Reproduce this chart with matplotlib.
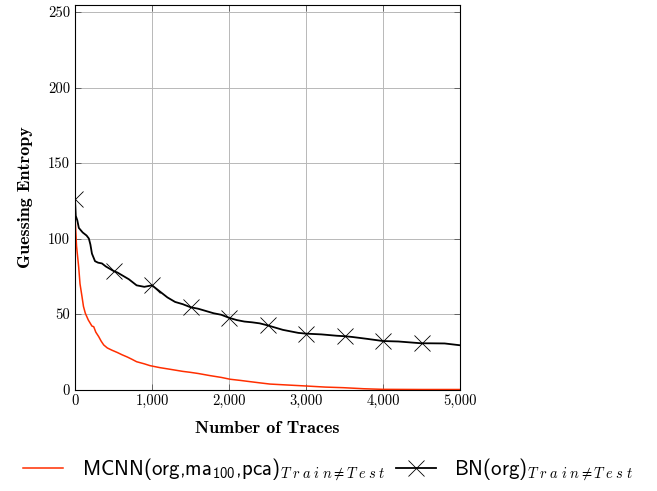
import matplotlib
matplotlib.use('Agg')
import matplotlib.pyplot as plt
from matplotlib.ticker import FuncFormatter

# values
bn_traces = [0, 10, 30, 50, 100, 150, 180, 200, 220, 260, 300, 350, 400, 450,
             500, 550, 600, 700, 800, 900, 1000, 1100, 1200, 1300, 1400, 1500,
             1600, 1700, 1800, 1900, 2000, 2100, 2200, 2300, 2400, 2500, 2600,
             2700, 2800, 2900, 3000, 3200, 3400, 3500, 3600, 3800, 4000, 4200,
             4400, 4500, 4600, 4800, 5000]
bn_ge = [126, 115, 112, 107, 104, 102, 100, 96, 90, 85, 84, 83.5, 81.5, 80,
         78.5, 77.5, 76, 73, 69, 68, 69, 65, 61, 58, 56.5, 54.5,
         53.5, 52, 50.5, 49.5, 47.5, 46, 45, 44.5, 43.8, 42.5, 41,
         39.5, 38.5, 37.5, 37, 36.5, 35.6, 35.3, 34.8, 33.5, 32.1, 31.8,
         31, 30.6, 30.6, 30.5, 29.3]

mcnn_traces = [0, 5, 20, 48, 65, 91, 110, 134, 173, 199, 220, 243, 270, 308,
               340, 373, 420, 481, 550, 611, 680, 740, 800, 900, 974, 1100,
               1234, 1400, 1494, 1600, 1753, 1900, 2013, 2150, 2273, 2400,
               2532, 2750, 3008, 3250, 3485, 3750, 4000, 4500, 5000]
mcnn_ge = [112, 110, 95, 81, 70, 61.5, 55, 50.5, 46, 43.8, 42, 41.6, 38, 35,
           32, 29.5, 27.5, 26, 24.5, 23, 21.5, 20, 18.4, 17, 15.8, 14.5,
           13.4, 12, 11.4, 10.6, 9.2, 8, 6.8, 6, 5.2, 4.4,
           3.6, 3, 2.3, 1.6, 1.2, 0.5, 0.1, 0, 0]

x_ticks = [0, 1000, 2000, 3000, 4000, 5000]
y_ticks = [0, 50, 100, 150, 200, 250]

sub = r'_{T\;r\;a\;i\;n\neq T\;e\;s\;t}'
label_mcnn = r'MCNN(org,ma$_{\mathsf{100}}$,pca)$' + sub + '$'
label_bn = r'BN(org)$' + sub + '$'

plt.rcParams['mathtext.fontset'] = 'custom'
plt.rcParams['mathtext.rm'] = 'cmss10'
plt.rcParams['mathtext.sf'] = 'cmss10'
plt.rcParams['mathtext.it'] = 'cmmi10'
plt.rcParams['mathtext.fallback'] = 'cm'

fig = plt.figure(figsize=(6.57, 4.91), dpi=100)
ax = fig.add_axes([75 / 657, 1 - 389.5 / 491, 385 / 657, 385 / 491])

ax.plot(mcnn_traces, mcnn_ge, color='#ff2e00', lw=1.1, label=label_mcnn)
marks = [i for i, t in enumerate(bn_traces) if t % 500 == 0 and t < 5000]
ax.plot(bn_traces, bn_ge, color='black', lw=1.3, marker='x', markersize=11,
        markeredgewidth=0.6, markevery=marks, label=label_bn)

ax.set_xlim(0, 5000)
ax.set_ylim(0, 255)
ax.set_xticks(x_ticks)
ax.set_yticks(y_ticks)
ax.xaxis.set_major_formatter(FuncFormatter(lambda v, p: f'{int(v):,}'))
ax.grid(True, color='#b8b8b8', lw=0.7)
ax.set_axisbelow(True)
ax.tick_params(direction='in', top=True, right=True, length=4, width=0.6,
               color='#555555', labelsize=10.5)
for lab in ax.get_xticklabels() + ax.get_yticklabels():
    lab.set_fontfamily('cmr10')
for s in ax.spines.values():
    s.set_linewidth(0.8)

ax.set_xlabel('Number of Traces', fontfamily='cmb10', fontsize=13, labelpad=9)
ax.set_ylabel('Guessing Entropy', fontfamily='cmb10', fontsize=13, labelpad=11)

leg = fig.legend(loc='center', bbox_to_anchor=(0.5, 1 - 470 / 491), ncol=2,
                 frameon=False, handlelength=1.9, columnspacing=0.5,
                 handletextpad=0.9, prop={'family': 'cmss10', 'size': 15})

fig.savefig('out.png', dpi=100)
